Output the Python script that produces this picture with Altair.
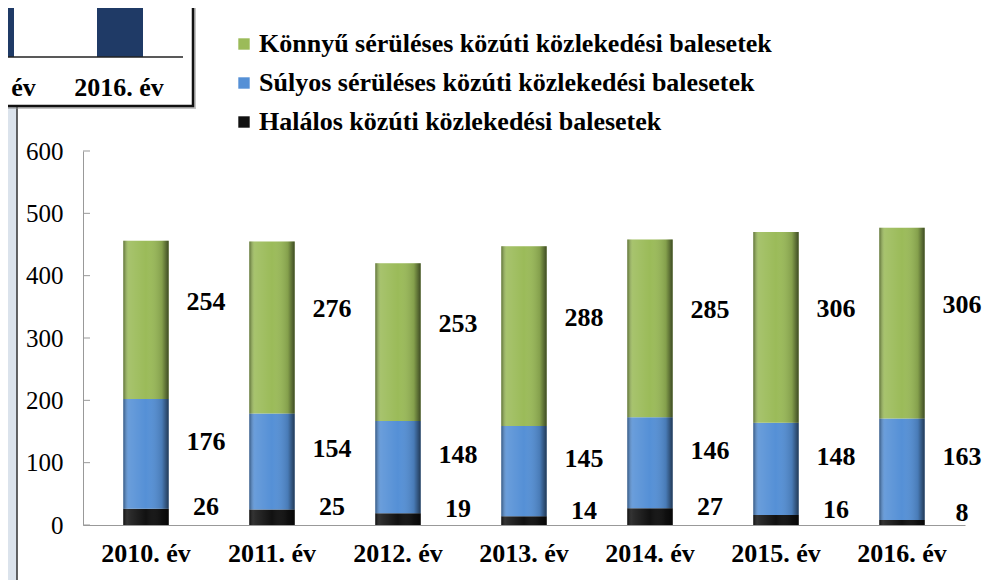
import altair as alt
import pandas as pd

years = ["2010. év", "2011. év", "2012. év", "2013. év", "2014. év", "2015. év", "2016. év"]
halalos = [26, 25, 19, 14, 27, 16, 8]
sulyos = [176, 154, 148, 145, 146, 148, 163]
konnyu = [254, 276, 253, 288, 285, 306, 306]

s_konnyu = "Könnyű sérüléses közúti közlekedési balesetek"
s_sulyos = "Súlyos sérüléses közúti közlekedési balesetek"
s_halalos = "Halálos közúti közlekedési balesetek"
series_order = [s_konnyu, s_sulyos, s_halalos]
colors = ["#9bbb59", "#5590d6", "#111111"]
y_ticks = [0, 100, 200, 300, 400, 500, 600]

rows = []
for i, y in enumerate(years):
    rows.append({"year": y, "series": s_halalos, "idx": 0, "value": halalos[i]})
    rows.append({"year": y, "series": s_sulyos, "idx": 1, "value": sulyos[i]})
    rows.append({"year": y, "series": s_konnyu, "idx": 2, "value": konnyu[i]})
df = pd.DataFrame(rows)

SERIF = "'Liberation Serif', 'Times New Roman', Times, 'DejaVu Serif', serif"

base = alt.Chart(df).transform_stack(
    stack="value", groupby=["year"], as_=["y0", "y1"],
    sort=[alt.SortField("idx", order="ascending")]
).transform_calculate(mid="(datum.y0 + datum.y1) / 2")

xenc = alt.X("year:N", sort=years, title=None,
             scale=alt.Scale(paddingInner=0.64, paddingOuter=0.32),
             axis=alt.Axis(labelFont=SERIF, labelFontWeight="bold", labelFontSize=26,
                           labelColor="#000", labelAngle=0, ticks=False, domainColor="#999",
                           labelPadding=15, grid=False, zindex=2))
yscale = alt.Scale(domain=[0, 600], nice=False)

bars = base.mark_bar().encode(
    x=xenc,
    y=alt.Y("y0:Q", scale=yscale, title=None,
            axis=alt.Axis(values=y_ticks, labelFont=SERIF, labelFontSize=25, labelColor="#000",
                          ticks=False, domainColor="#999", labelPadding=20, grid=False,
                          zindex=2)),
    y2="y1:Q",
    color=alt.Color("series:N", scale=alt.Scale(domain=series_order, range=colors),
                    legend=alt.Legend(title=None, orient="none", legendX=148, legendY=-120,
                                      symbolType="square", symbolSize=130, symbolStrokeWidth=0,
                                      labelFont=SERIF, labelFontWeight="bold", labelFontSize=26,
                                      labelColor="#000", rowPadding=13, labelLimit=800,
                                      labelOffset=2)),
)

shade = base.mark_bar(color=alt.Gradient(
    gradient="linear", x1=0, x2=1, y1=0, y2=0,
    stops=[alt.GradientStop(offset=0, color="rgba(0,0,0,0.4)"),
           alt.GradientStop(offset=0.12, color="rgba(255,255,255,0.12)"),
           alt.GradientStop(offset=0.5, color="rgba(255,255,255,0.0)"),
           alt.GradientStop(offset=0.85, color="rgba(0,0,0,0.15)"),
           alt.GradientStop(offset=1, color="rgba(0,0,0,0.6)")])).encode(
    x=alt.X("year:N", sort=years), y=alt.Y("y0:Q", scale=yscale), y2="y1:Q")


def labels(series, dy):
    return base.transform_filter(alt.datum.series == series).mark_text(
        font=SERIF, fontWeight="bold", fontSize=26, color="#000", dx=60, dy=dy, align="center"
    ).encode(x=alt.X("year:N", sort=years), y=alt.Y("mid:Q", scale=yscale), text="value:Q")


ticks = alt.Chart(pd.DataFrame({"t": y_ticks})).mark_rule(color="#999").encode(
    y=alt.Y("t:Q", scale=yscale), x=alt.value(0), x2=alt.value(7))

one = pd.DataFrame({"d": [0]})
panel = alt.Chart(one).mark_rect(fill="white", stroke="#333", strokeWidth=1.5).encode(
    x=alt.value(-66), x2=alt.value(909), y=alt.value(-144), y2=alt.value(470))
inset_shadow = alt.Chart(one).mark_rect(fill="#888", opacity=0.5).encode(
    x=alt.value(-90), x2=alt.value(113), y=alt.value(-160), y2=alt.value(-42))
inset = alt.Chart(one).mark_rect(fill="white", stroke="#111", strokeWidth=2.5).encode(
    x=alt.value(-90), x2=alt.value(110), y=alt.value(-160), y2=alt.value(-45))
inset_bar1 = alt.Chart(one).mark_rect(fill="#1f3a66").encode(
    x=alt.value(14), x2=alt.value(60), y=alt.value(-160), y2=alt.value(-94))
inset_bar2 = alt.Chart(one).mark_rect(fill="#1f3a66").encode(
    x=alt.value(-90), x2=alt.value(-69), y=alt.value(-160), y2=alt.value(-94))
inset_base = alt.Chart(one).mark_rule(color="#222", strokeWidth=1.5).encode(
    x=alt.value(-90), x2=alt.value(100), y=alt.value(-94))
inset_t1 = alt.Chart(one).mark_text(text="2016. év", font=SERIF, fontWeight="bold", fontSize=26,
                                    color="#000").encode(x=alt.value(36), y=alt.value(-63))
inset_t2 = alt.Chart(one).mark_text(text="2015. év", font=SERIF, fontWeight="bold", fontSize=26,
                                    color="#000").encode(x=alt.value(-92), y=alt.value(-63))

chart = alt.layer(
    panel, inset_shadow, inset, inset_bar1, inset_bar2, inset_base, inset_t1, inset_t2,
    bars, shade, labels(s_konnyu, -18), labels(s_sulyos, -12), labels(s_halalos, -10), ticks
).properties(
    width=882, height=374,
    autosize=alt.AutoSizeParams(type="none"),
    padding={"left": 75, "top": 143, "right": 20, "bottom": 55},
    background="#dbe3ec",
).configure_view(stroke=None)

chart.save("out.html", embed_options={"renderer": "svg", "actions": False})
